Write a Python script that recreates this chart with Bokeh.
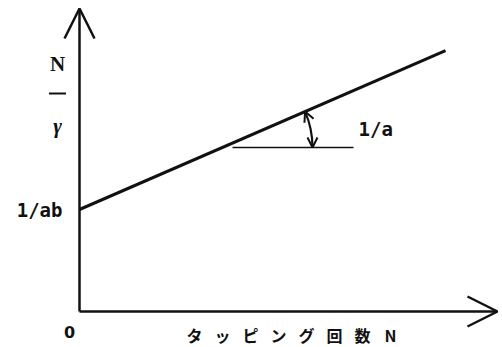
import math
from bokeh.plotting import figure
from bokeh.models import Range1d, Arrow, OpenHead
from bokeh.core.properties import value
from bokeh.embed import file_html
from bokeh.resources import INLINE

# ---- data (arbitrary units, 1 unit ~ 1 px) ----
intercept = 102.0          # 1/ab
slope = 0.434              # 1/a
N_line = [0, 366]          # extent of the plotted line
N_axis_max = 418           # x-axis arrow tip
y_axis_max = 303           # y-axis arrow tip
vertex_N = 143             # where the slope angle is marked
ref_seg = [153, 274]       # horizontal reference segment
arc_radius = 90
intercept_label = "1/ab"
slope_label = "1/a"
origin_label = "0"
y_label_top = "N"
y_label_bottom = "γ"
x_label_chars = list("タッピング回数N")

# ---- figure ----
p = figure(width=502, height=347, output_backend="svg", toolbar_location=None,
           x_range=Range1d(-79, 423), y_range=Range1d(-36, 311),
           x_axis_type=None, y_axis_type=None, min_border=0)
p.grid.visible = False
p.outline_line_color = None
p.background_fill_color = "white"
p.border_fill_color = "white"

ink = "#111111"

# axes with open arrow heads
p.add_layout(Arrow(x_start=0, y_start=0, x_end=N_axis_max, y_end=0,
                   line_width=2.5, line_color=ink,
                   end=OpenHead(size=30, line_width=2.5, line_color=ink)))
p.add_layout(Arrow(x_start=0, y_start=0, x_end=0, y_end=y_axis_max,
                   line_width=2.5, line_color=ink,
                   end=OpenHead(size=30, line_width=2.5, line_color=ink)))

# main line
p.line(N_line, [intercept + slope * n for n in N_line], line_width=3, line_color=ink)

# horizontal reference
yv = intercept + slope * vertex_N
p.line(ref_seg, [yv, yv], line_width=1.5, line_color=ink)

# angle arc with arrow heads at both ends
theta = math.atan(slope)
p.arc(x=[vertex_N], y=[yv], radius=arc_radius, start_angle=0, end_angle=theta,
      line_width=2.2, line_color=ink)
bx, by = vertex_N + arc_radius, yv
p.add_layout(Arrow(x_start=bx, y_start=by + 3, x_end=bx, y_end=by, line_width=2,
                   line_color=ink, end=OpenHead(size=10, line_width=2, line_color=ink)))
tx, ty = vertex_N + arc_radius * math.cos(theta), yv + arc_radius * math.sin(theta)
dx, dy = -math.sin(theta), math.cos(theta)
p.add_layout(Arrow(x_start=tx - 3 * dx, y_start=ty - 3 * dy, x_end=tx, y_end=ty, line_width=2,
                   line_color=ink, end=OpenHead(size=10, line_width=2, line_color=ink)))

mono = value("DejaVu Sans Mono")
# labels
p.text(x=[-17], y=[intercept], text=[intercept_label], text_align="right",
       text_baseline="middle", text_font=mono, text_font_size="19px",
       text_font_style="bold", text_color=ink)
p.text(x=[279], y=[183], text=[slope_label], text_align="left",
       text_baseline="middle", text_font=mono, text_font_size="19px",
       text_font_style="bold", text_color=ink)
p.text(x=[-10], y=[-20], text=[origin_label], text_align="center",
       text_baseline="middle", text_font=value("DejaVu Sans"), text_font_size="16px",
       text_font_style="bold", text_color=ink)

# y label as fraction N / γ
ylx = -22
p.text(x=[ylx], y=[248], text=[y_label_top], text_align="center", text_baseline="middle",
       text_font=value("Liberation Serif"), text_font_size="21px", text_font_style="bold",
       text_color=ink)
p.line([ylx - 8.5, ylx + 8.5], [218, 218], line_width=2, line_color=ink)
p.text(x=[ylx], y=[186], text=[y_label_bottom], text_align="center", text_baseline="middle",
       text_font=value("Liberation Serif"), text_font_size="21px", text_font_style="bold italic",
       text_color=ink)

# x label, widely spaced characters
spacing = 28
p.text(x=[115 + spacing * i for i in range(len(x_label_chars))], y=[-23] * len(x_label_chars),
       text=x_label_chars, text_align="center", text_baseline="middle",
       text_font=value("Noto Sans CJK JP"), text_font_size="16px", text_font_style="bold",
       text_color=ink)

open("out.html", "w").write(file_html(p, INLINE))
